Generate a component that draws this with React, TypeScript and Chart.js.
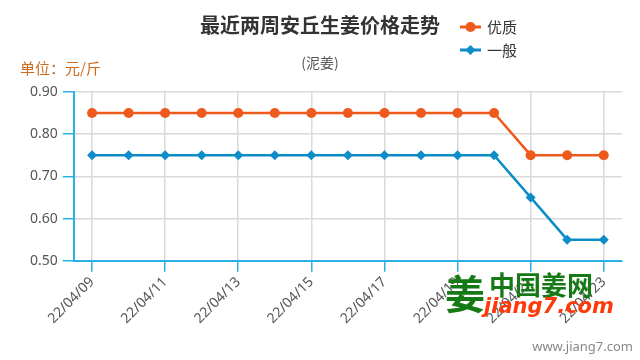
import React, { useEffect, useRef } from 'react';
import { Chart, registerables } from 'chart.js';

Chart.register(...registerables);

const categories = [
  '22/04/09', '22/04/10', '22/04/11', '22/04/12', '22/04/13',
  '22/04/14', '22/04/15', '22/04/16', '22/04/17', '22/04/18',
  '22/04/19', '22/04/20', '22/04/21', '22/04/22', '22/04/23',
];
const premiumValues = [0.85, 0.85, 0.85, 0.85, 0.85, 0.85, 0.85, 0.85, 0.85, 0.85, 0.85, 0.85, 0.75, 0.75, 0.75];
const normalValues = [0.75, 0.75, 0.75, 0.75, 0.75, 0.75, 0.75, 0.75, 0.75, 0.75, 0.75, 0.75, 0.65, 0.55, 0.55];
const seriesNames = ['优质', '一般'];
const yMin = 0.5;
const yMax = 0.9;
const yStep = 0.1;
const titleText = '最近两周安丘生姜价格走势';
const subtitleText = '(泥姜)';
const unitText = '单位：元/斤';
const watermarkSite = 'www.jiang7.com';
const logoCn = '中国姜网';
const logoEn = 'jiang7.com';

const ORANGE = '#EE5A1C';
const BLUE = '#0C8CC8';
const AXIS = '#2AB0E4';
const GRID = '#dadada';
const CJK = '"Noto Sans CJK SC", "Noto Sans", sans-serif';
const NUM = '"Noto Sans", "DejaVu Sans", sans-serif';

const overlayPlugin = {
  id: 'overlay',
  afterDraw(chart: any) {
    const ctx = chart.ctx as CanvasRenderingContext2D;
    ctx.save();
    // legend
    const items = [
      { name: seriesNames[0], color: ORANGE, style: 'circle', y: 27 },
      { name: seriesNames[1], color: BLUE, style: 'diamond', y: 50 },
    ];
    for (const it of items) {
      ctx.strokeStyle = it.color;
      ctx.lineWidth = 3;
      ctx.beginPath();
      ctx.moveTo(460, it.y);
      ctx.lineTo(481, it.y);
      ctx.stroke();
      ctx.fillStyle = it.color;
      ctx.beginPath();
      if (it.style === 'circle') {
        ctx.arc(470.5, it.y, 5, 0, Math.PI * 2);
      } else {
        ctx.moveTo(470.5, it.y - 5);
        ctx.lineTo(475.5, it.y);
        ctx.lineTo(470.5, it.y + 5);
        ctx.lineTo(465.5, it.y);
        ctx.closePath();
      }
      ctx.fill();
      ctx.fillStyle = '#333';
      ctx.font = `15px ${CJK}`;
      ctx.textAlign = 'left';
      ctx.textBaseline = 'middle';
      ctx.fillText(it.name, 487, it.y);
    }
    // unit
    ctx.fillStyle = '#CC6A1E';
    ctx.font = `15px ${CJK}`;
    ctx.textAlign = 'left';
    ctx.textBaseline = 'middle';
    ctx.fillText(unitText, 20, 68);
    // watermark logo
    ctx.fillStyle = '#157a16';
    ctx.font = `bold 40px ${CJK}`;
    ctx.textBaseline = 'middle';
    ctx.fillText('姜', 445, 294);
    ctx.font = `bold 26px ${CJK}`;
    ctx.fillText(logoCn, 489, 285);
    ctx.fillStyle = '#FF3A0A';
    ctx.font = `italic bold 21px "DejaVu Sans", sans-serif`;
    ctx.fillText(logoEn, 484, 308);
    // site
    ctx.fillStyle = '#888';
    ctx.font = `13px ${NUM}`;
    ctx.textAlign = 'right';
    ctx.fillText(watermarkSite, 633, 347);
    ctx.restore();
  },
};

export default function App() {
  const ref = useRef<HTMLCanvasElement | null>(null);
  useEffect(() => {
    document.body.style.margin = '0';
    const canvas = ref.current;
    if (!canvas) return;
    const chart = new Chart(canvas, {
      type: 'line',
      data: {
        labels: categories,
        datasets: [
          {
            label: seriesNames[0],
            data: premiumValues,
            borderColor: ORANGE,
            backgroundColor: ORANGE,
            borderWidth: 2.5,
            pointStyle: 'circle',
            pointRadius: 5,
            pointBorderWidth: 0,
            tension: 0,
          },
          {
            label: seriesNames[1],
            data: normalValues,
            borderColor: BLUE,
            backgroundColor: BLUE,
            borderWidth: 2.5,
            pointStyle: 'rectRot',
            pointRadius: 5,
            pointBorderWidth: 0,
            tension: 0,
          },
        ],
      },
      options: {
        responsive: false,
        animation: false,
        layout: { padding: { left: 18, right: 18, top: 0, bottom: 31 } },
        plugins: {
          legend: { display: false },
          tooltip: { enabled: false },
          title: {
            display: true,
            text: titleText,
            color: '#333',
            font: { size: 20, weight: 'bold', family: CJK },
            padding: { top: 13, bottom: 0 },
          },
          subtitle: {
            display: true,
            text: subtitleText,
            color: '#555',
            font: { size: 14, family: CJK },
            padding: { top: 17, bottom: 21 },
          },
        },
        scales: {
          x: {
            type: 'category',
            offset: true,
            grid: {
              offset: false,
              color: (c: any) => (c.index % 2 === 0 ? GRID : 'rgba(0,0,0,0)'),
              tickColor: (c: any) => (c.index % 2 === 0 ? AXIS : 'rgba(0,0,0,0)'),
              tickLength: 11,
              lineWidth: 1.5,
            },
            border: { color: AXIS, width: 2 },
            ticks: {
              autoSkip: false,
              maxRotation: 45,
              minRotation: 45,
              padding: 2,
              color: '#555',
              font: { size: 14, family: NUM },
              callback: (_v: any, i: number) => (i % 2 === 0 ? categories[i] : ''),
            },
          },
          y: {
            min: yMin,
            max: yMax,
            afterFit: (scale: any) => {
              scale.width += 7;
            },
            grid: {
              color: GRID,
              tickColor: AXIS,
              tickLength: 11,
              lineWidth: 1.5,
            },
            border: { color: AXIS, width: 2 },
            ticks: {
              stepSize: yStep,
              padding: 5,
              color: '#555',
              font: { size: 14, family: NUM },
              callback: (v: any) => Number(v).toFixed(2),
            },
          },
        },
      },
      plugins: [overlayPlugin],
    });
    return () => chart.destroy();
  }, []);
  return <canvas ref={ref} width={640} height={360} style={{ display: 'block' }} />;
}
